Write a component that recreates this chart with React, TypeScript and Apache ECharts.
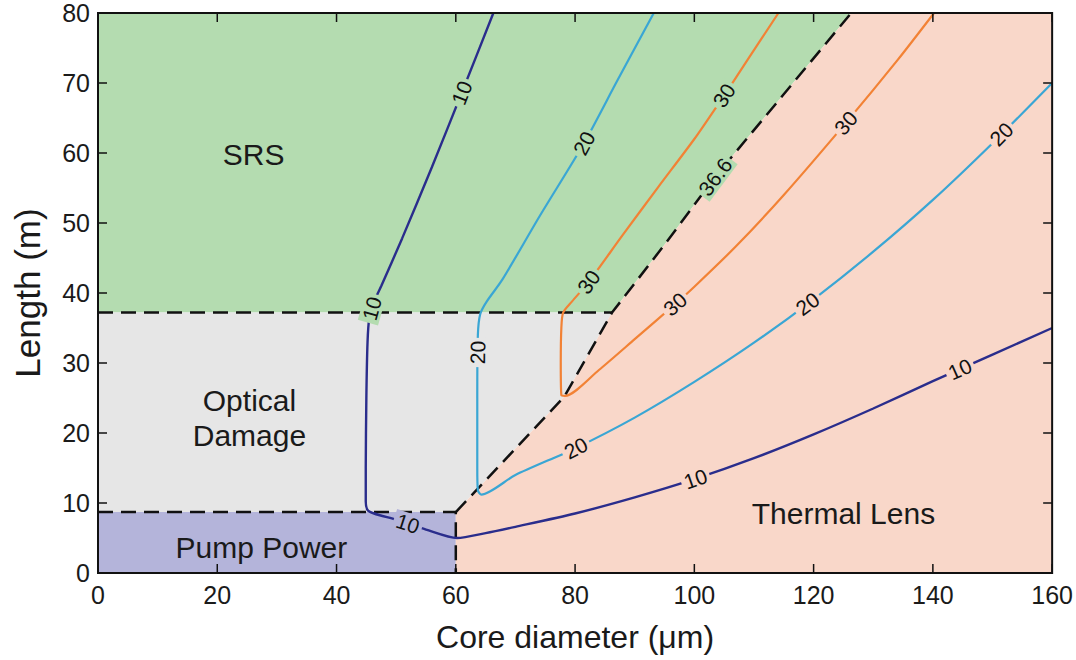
import React, { useEffect, useRef } from "react";
import * as echarts from "echarts";

type Pt = [number, number];

// ---- axes ----
const xMin = 0;
const xMax = 160;
const xStep = 20;
const yMin = 0;
const yMax = 80;
const yStep = 10;
const xTitle = "Core diameter (μm)";
const yTitle = "Length (m)";

// ---- iso-power contours (W) ----
const contour10: Pt[] = [
  [66.3, 80], [61, 68.6], [56, 58], [51, 47.8], [47.5, 41], [46.2, 38.6], [45.5, 36.5],
  [45.2, 33], [45.0, 25], [44.9, 15], [44.9, 10.2], [45.2, 9.0], [46.3, 8.5], [50, 7.6],
  [55, 6.2], [60.2, 5.0], [65, 5.7], [70, 6.6], [80, 8.5], [90, 10.8], [100, 13.4],
  [110, 16.4], [120, 19.8], [130, 23.5], [140, 27.4], [150, 31.2], [160, 35],
];
const contour20: Pt[] = [
  [93.2, 80], [87, 70.2], [81.5, 61.4], [74, 50.9], [67.8, 41.9], [65.2, 38.8], [64.1, 37],
  [63.7, 34], [63.6, 25], [63.6, 15], [63.7, 11.8], [64.3, 11.2], [70, 14.0], [80, 17.8],
  [90, 22.2], [100, 27.3], [110, 32.9], [120, 39.1], [130, 45.9], [140, 53.3], [150, 61.4],
  [160, 70],
];
const contour30: Pt[] = [
  [114.1, 80], [109, 73.4], [104.5, 67.6], [100, 62], [94, 55.2], [88, 48.3], [82.3, 41.6],
  [79.5, 38.8], [78, 37.2], [77.7, 35], [77.6, 30], [77.7, 25.4], [78.3, 25.3], [84, 29],
  [90, 33.4], [96.9, 38.5], [100, 40.9], [106.9, 46.6], [115, 54], [125.4, 64.3],
  [134.1, 73.3], [140.2, 80],
];
// 36.6 W limit (dashed), and the horizontal / vertical limits
const limit366: Pt[] = [
  [60, 8.7], [78.2, 25.2], [86.2, 37.2], [95, 46.9], [103.5, 56.6], [126.3, 80],
];
const srsLimitY = 37.2;
const pumpLimitY = 8.7;
const pumpLimitX = 60;

const contourTexts = ["10", "20", "30", "36.6"];

// label positions on each contour
const labels10: Pt[] = [[61, 68.6], [45.9, 37.8], [51.9, 6.9], [100.2, 13.4], [144.6, 29]];
const labels20: Pt[] = [[81.5, 61.4], [63.6, 31.5], [80.3, 17.6], [118.6, 38.9], [151.6, 62.6]];
const labels30: Pt[] = [[105.4, 68], [82.3, 41.6], [96.9, 38.3], [125.4, 64.3]];
const labels366: Pt[] = [[103.5, 56.6]];

// regions
const regionNames = ["SRS", "Optical\nDamage", "Pump Power", "Thermal Lens"];
const regionLabelPos: Pt[] = [[26.1, 59.8], [25.4, 22.2], [27.4, 3.6], [125, 8.5]];

// ---- derived geometry ----
const kneeIdx = limit366.findIndex((p) => p[1] >= srsLimitY);
const srsRegion: Pt[] = [[xMin, srsLimitY], ...limit366.slice(kneeIdx), [xMin, yMax]];
const damageRegion: Pt[] = [[xMin, pumpLimitY], ...limit366.slice(0, kneeIdx + 1), [xMin, srsLimitY]];
const pumpRegion: Pt[] = [[xMin, yMin], [pumpLimitX, yMin], [pumpLimitX, pumpLimitY], [xMin, pumpLimitY]];
const thermalRegion: Pt[] = [[pumpLimitX, yMin], [xMax, yMin], [xMax, yMax], ...limit366.slice().reverse()];
const regions = [srsRegion, damageRegion, pumpRegion, thermalRegion];
const regionColors = ["#b4dcb0", "#e6e6e6", "#b4b4da", "#f9d7c9"];

const srsLimit: Pt[] = [[xMin, srsLimitY], limit366[kneeIdx]];
const pumpLimit: Pt[] = [[xMin, pumpLimitY], [pumpLimitX, pumpLimitY], [pumpLimitX, yMin]];

const contourLines = [contour10, contour20, contour30, limit366];
const labelSets = [labels10, labels20, labels30, labels366];
const labelData = labelSets.flatMap((set, li) => set.map((p) => [p[0], p[1], li]));

const xTickValues: number[] = [];
for (let v = xMin; v <= xMax; v += xStep) xTickValues.push(v);
const yTickValues: number[] = [];
for (let v = yMin; v <= yMax; v += yStep) yTickValues.push(v);

const FONT = '"Liberation Sans", Arial, Helvetica, sans-serif';
const TEXT = "#1a1a1a";

function inPoly(p: Pt, poly: Pt[]) {
  let inside = false;
  for (let i = 0, j = poly.length - 1; i < poly.length; j = i++) {
    const [xi, yi] = poly[i];
    const [xj, yj] = poly[j];
    if (yi > p[1] !== yj > p[1] && p[0] < ((xj - xi) * (p[1] - yi)) / (yj - yi) + xi) inside = !inside;
  }
  return inside;
}

export default function App() {
  const ref = useRef<HTMLDivElement>(null);
  useEffect(() => {
    if (!ref.current) return;
    const chart = echarts.init(ref.current, undefined, { renderer: "svg" });

    const lineSeries = (data: Pt[], color: string, width: number, dashed = false) => ({
      type: "line",
      data,
      symbol: "none",
      z: 3,
      silent: true,
      smooth: dashed ? false : 0.25,
      lineStyle: { color, width, type: dashed ? [15, 8] : "solid" },
    });

    const axisCommon = {
      type: "value",
      axisLine: { show: false },
      axisTick: { show: false },
      splitLine: { show: false },
    };

    chart.setOption({
      animation: false,
      backgroundColor: "#fff",
      grid: { left: 98, right: 21, top: 13, bottom: 87 },
      xAxis: [
        {
          ...axisCommon,
          min: xMin, max: xMax, interval: xStep, position: "bottom",
          axisLabel: { color: TEXT, fontSize: 25, fontFamily: FONT, margin: 9 },
          name: xTitle, nameLocation: "middle", nameGap: 48,
          nameTextStyle: { color: TEXT, fontSize: 32, fontFamily: FONT },
        },
      ],
      yAxis: [
        {
          ...axisCommon,
          min: yMin, max: yMax, interval: yStep, position: "left",
          axisLabel: { color: TEXT, fontSize: 25, fontFamily: FONT, margin: 8 },
          name: yTitle, nameLocation: "middle", nameGap: 53,
          nameTextStyle: { color: TEXT, fontSize: 35, fontFamily: FONT },
        },
      ],
      series: [
        {
          type: "custom",
          z: 1,
          silent: true,
          data: regions.map((_, i) => [i, 0]),
          renderItem: (params: any, api: any) => ({
            type: "polygon",
            shape: { points: regions[params.dataIndex].map((p) => api.coord(p)) },
            style: { fill: regionColors[params.dataIndex] },
          }),
        },
        lineSeries(srsLimit, "#111", 2.5, true),
        lineSeries(pumpLimit, "#111", 2.5, true),
        lineSeries(limit366, "#111", 2.5, true),
        lineSeries(contour10, "#2a2d8c", 2.4),
        lineSeries(contour20, "#3aa6d4", 2.2),
        lineSeries(contour30, "#f28235", 2.2),
        {
          type: "custom",
          z: 5,
          silent: true,
          data: labelData,
          renderItem: (params: any, api: any) => {
            const [lx, ly, li] = labelData[params.dataIndex];
            const line = contourLines[li].map((p) => api.coord(p));
            const P = api.coord([lx, ly]);
            let best = { d: Infinity, x: P[0], y: P[1], ang: 0 };
            for (let i = 0; i < line.length - 1; i++) {
              const a = line[i];
              const b = line[i + 1];
              const vx = b[0] - a[0];
              const vy = b[1] - a[1];
              const L = vx * vx + vy * vy;
              if (L === 0) continue;
              let t = ((P[0] - a[0]) * vx + (P[1] - a[1]) * vy) / L;
              t = Math.max(0, Math.min(1, t));
              const qx = a[0] + t * vx;
              const qy = a[1] + t * vy;
              const d = Math.hypot(P[0] - qx, P[1] - qy);
              if (d < best.d) best = { d, x: qx, y: qy, ang: Math.atan2(-vy, vx) };
            }
            let ang = best.ang;
            if (ang > Math.PI / 2) ang -= Math.PI;
            if (ang <= -Math.PI / 2) ang += Math.PI;
            const probe: Pt = [lx - 0.5, ly];
            let ri = regions.findIndex((r) => inPoly(probe, r));
            if (ri < 0) ri = 3;
            return {
              type: "text",
              x: best.x,
              y: best.y,
              rotation: ang,
              style: {
                text: contourTexts[li],
                font: `21px ${FONT}`,
                fill: "#111",
                align: "center",
                verticalAlign: "middle",
                backgroundColor: regionColors[ri],
                padding: [0, 3],
              },
            };
          },
        },
        {
          type: "custom",
          z: 6,
          silent: true,
          data: regionLabelPos.map((p) => [p[0], p[1]]),
          renderItem: (params: any, api: any) => {
            const p = api.coord(regionLabelPos[params.dataIndex]);
            return {
              type: "text",
              x: p[0],
              y: p[1],
              style: {
                text: regionNames[params.dataIndex],
                font: `30px ${FONT}`,
                fill: TEXT,
                align: "center",
                verticalAlign: "middle",
                lineHeight: 35,
              },
            };
          },
        },
        {
          // frame with inward ticks on all four sides
          type: "custom",
          z: 10,
          silent: true,
          data: [[xMin, yMin]],
          renderItem: (_params: any, api: any) => {
            const tl = api.coord([xMin, yMax]);
            const br = api.coord([xMax, yMin]);
            const tk = 9;
            const tickStyle = { stroke: "#111", lineWidth: 1.5 };
            const children: any[] = [];
            xTickValues.forEach((v) => {
              const px = api.coord([v, yMin])[0];
              children.push({ type: "line", shape: { x1: px, y1: br[1], x2: px, y2: br[1] - tk }, style: tickStyle });
              children.push({ type: "line", shape: { x1: px, y1: tl[1], x2: px, y2: tl[1] + tk }, style: tickStyle });
            });
            yTickValues.forEach((v) => {
              const py = api.coord([xMin, v])[1];
              children.push({ type: "line", shape: { x1: tl[0], y1: py, x2: tl[0] + tk, y2: py }, style: tickStyle });
              children.push({ type: "line", shape: { x1: br[0], y1: py, x2: br[0] - tk, y2: py }, style: tickStyle });
            });
            children.push({
              type: "rect",
              shape: { x: tl[0], y: tl[1], width: br[0] - tl[0], height: br[1] - tl[1] },
              style: { fill: "none", stroke: "#111", lineWidth: 2 },
            });
            return { type: "group", children };
          },
        },
      ],
    });
    return () => chart.dispose();
  }, []);
  return (
    <div
      ref={ref}
      style={{ position: "fixed", left: 0, top: 0, width: 1076, height: 660 }}
    />
  );
}
